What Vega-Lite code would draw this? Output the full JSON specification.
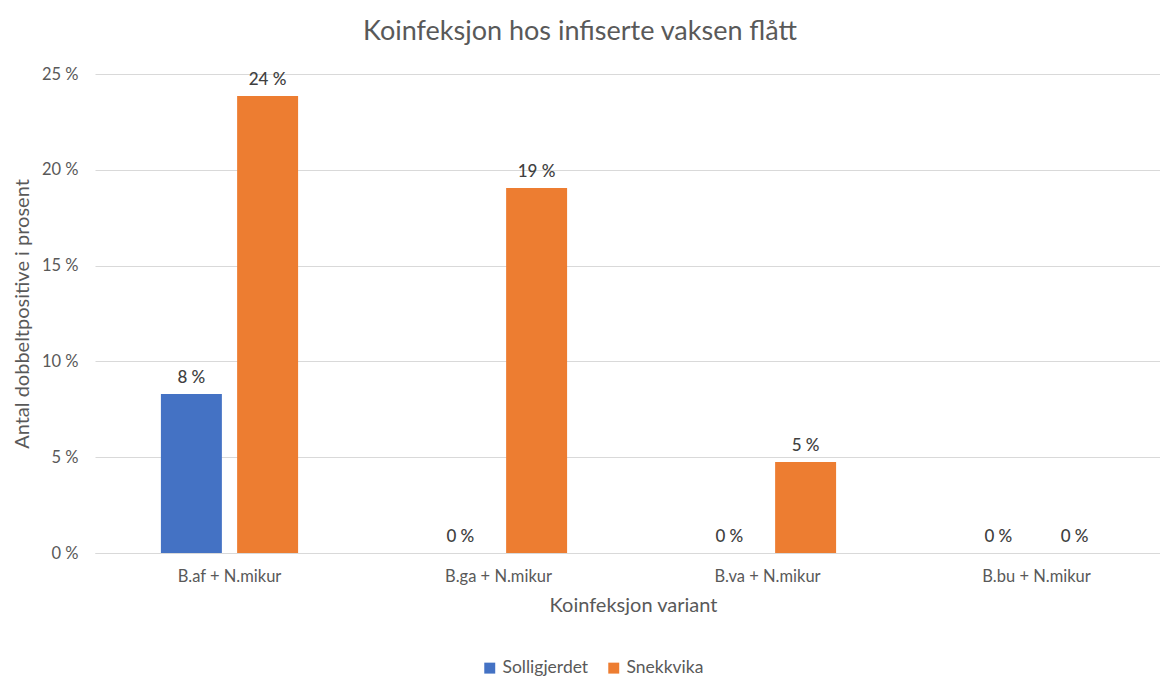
{
  "$schema": "https://vega.github.io/schema/vega-lite/v6.json",
  "width": 1076,
  "height": 479,
  "autosize": {"type": "none"},
  "padding": {"left": 95, "top": 74, "right": 0, "bottom": 123},
  "background": "white",
  "title": {
    "text": "Koinfeksjon hos infiserte vaksen flått",
    "fontSize": 27,
    "font": "Lato",
    "fontWeight": "normal",
    "color": "#595959",
    "anchor": "middle",
    "dx": -53,
    "offset": 20
  },
  "config": {
    "view": {"stroke": null},
    "font": "Lato"
  },
  "data": {
    "values": [
      {"variant": "B.af + N.mikur", "site": "Solligjerdet", "pct": 8.3},
      {"variant": "B.af + N.mikur", "site": "Snekkvika", "pct": 23.85},
      {"variant": "B.ga + N.mikur", "site": "Solligjerdet", "pct": 0},
      {"variant": "B.ga + N.mikur", "site": "Snekkvika", "pct": 19.05},
      {"variant": "B.va + N.mikur", "site": "Solligjerdet", "pct": 0},
      {"variant": "B.va + N.mikur", "site": "Snekkvika", "pct": 4.75},
      {"variant": "B.bu + N.mikur", "site": "Solligjerdet", "pct": 0},
      {"variant": "B.bu + N.mikur", "site": "Snekkvika", "pct": 0}
    ]
  },
  "transform": [
    {"calculate": "format(datum.pct, '.0f') + ' %'", "as": "label"}
  ],
  "encoding": {
    "x": {
      "field": "variant",
      "type": "nominal",
      "sort": null,
      "title": "Koinfeksjon variant",
      "scale": {"paddingInner": 0.49, "paddingOuter": 0.245},
      "axis": {
        "labelAngle": 0,
        "labelFontSize": 16.5,
        "labelColor": "#595959",
        "labelPadding": 15,
        "ticks": false,
        "domain": true,
        "domainColor": "#d9d9d9",
        "titleFontSize": 20,
        "titleFontWeight": "normal",
        "titleColor": "#595959",
        "titlePadding": 11
      }
    },
    "xOffset": {
      "field": "site",
      "type": "nominal",
      "sort": ["Solligjerdet", "Snekkvika"],
      "scale": {"paddingInner": 0.2}
    },
    "y": {
      "field": "pct",
      "type": "quantitative",
      "title": "Antal dobbeltpositive i prosent",
      "scale": {"domain": [0, 25]},
      "axis": {
        "values": [0, 5, 10, 15, 20, 25],
        "labelExpr": "datum.value + ' %'",
        "labelFontSize": 16.5,
        "labelColor": "#595959",
        "labelPadding": 17,
        "ticks": false,
        "domain": false,
        "gridColor": "#d9d9d9",
        "titleFontSize": 20,
        "titleFontWeight": "normal",
        "titleColor": "#595959",
        "titlePadding": 9
      }
    },
    "color": {
      "field": "site",
      "type": "nominal",
      "sort": ["Solligjerdet", "Snekkvika"],
      "scale": {"domain": ["Solligjerdet", "Snekkvika"], "range": ["#4472C4", "#ED7D31"]},
      "legend": {
        "title": null,
        "orient": "none",
        "direction": "horizontal",
        "legendX": 386,
        "legendY": 585,
        "symbolType": "square",
        "symbolSize": 120,
        "symbolStrokeWidth": 0,
        "labelFontSize": 17.5,
        "labelColor": "#595959",
        "columnPadding": 16
      }
    }
  },
  "layer": [
    {"mark": {"type": "bar"}},
    {
      "mark": {"type": "text", "baseline": "bottom", "dy": -7, "fontSize": 17, "fontWeight": 500},
      "encoding": {"text": {"field": "label"}, "color": {"value": "#404040"}}
    }
  ]
}
